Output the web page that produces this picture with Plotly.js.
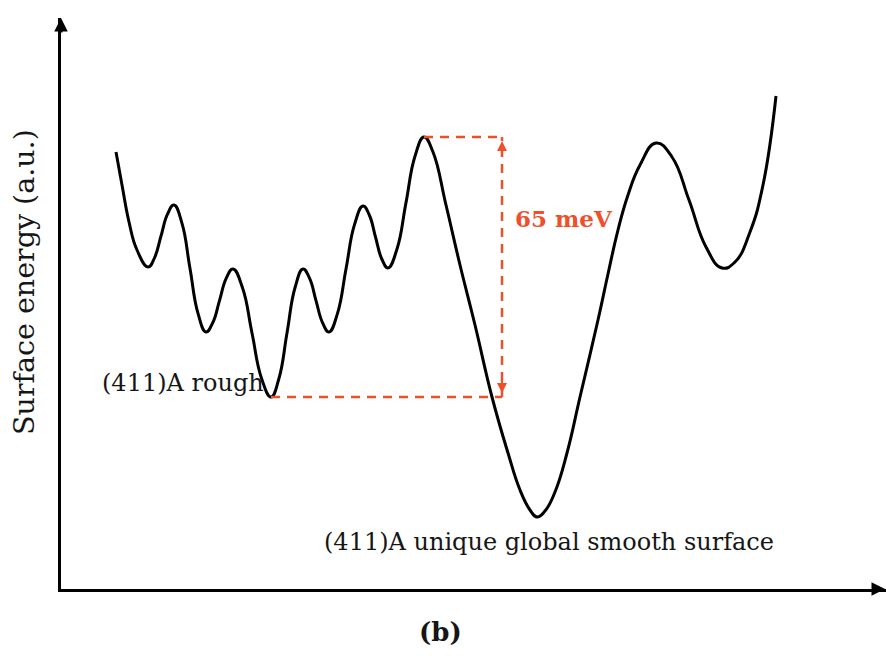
<!DOCTYPE html>
<html>
<head>
<meta charset="utf-8">
<script src="https://cdn.plot.ly/plotly-3.0.1.min.js"></script>
<style>
  html, body { margin: 0; padding: 0; background: #fff; }
  #chart { width: 886px; height: 656px; }
</style>
</head>
<body>
<div id="chart"></div>
<script>
// Surface energy landscape of the (411)A surface.
// Configuration coordinate (arbitrary) and surface energy in meV, relative to the global minimum.
const config_coord = [
  5.5, 6.1, 6.8, 7.6,
  8.7, 9.35, 10.0, 10.65,
  11.3, 12.1, 12.9, 13.7,
  14.5, 15.18, 15.85, 16.53,
  17.2, 18.15, 19.1, 20.05,
  21.0, 21.8, 22.6, 23.4,
  24.2, 24.85, 25.5, 26.15,
  26.8, 27.65, 28.5, 29.35,
  30.2, 30.83, 31.45, 32.08,
  32.7, 33.6, 34.5, 35.4,
  36.3, 37.2, 38.5, 39.9, 41.4, 43.1, 44.7, 45.9, 46.9,
  47.6, 48.4, 49.4, 50.6, 51.9, 53.7, 54.7, 55.7, 56.7, 57.9,
  59.5, 61.1, 62.8, 64.5,
  66.1, 67.4, 68.9, 70.2, 71.5
];
const surface_energy = [
  91.25, 83, 73.75, 66.75,
  62.5, 64.8, 70.25, 75.7,
  78, 73.4, 62.1, 50.9,
  46.25, 48.6, 54.1, 59.7,
  62, 57.3, 46, 34.7,
  30, 34.7, 46, 57.3,
  62, 59.7, 54.1, 48.6,
  46.25, 50.9, 62, 73.1,
  77.75, 75.5, 70, 64.5,
  62.25, 67, 78.6, 90.2,
  95, 91.25, 78, 63, 48, 30, 16, 6.75, 1.75,
  0, 1.5, 6.25, 16, 30, 49.25, 60.75, 71.75, 80.5, 88,
  93.5, 90, 79.25, 67.5,
  62.25, 63.75, 71.25, 83, 105.25
];

// Rough local minimum and the barrier that separates it from the smooth surface.
const rough_min_x = 21.0;
const rough_min_e = 30;
const barrier_x = 36.3;
const barrier_e = 95;
const barrier_label = '65 meV';
const marker_x = 44.1;     // where the barrier height is marked

const RED = '#ef4f2a';
const INK = '#161616';
const SERIF = '"DejaVu Serif", "Liberation Serif", serif';

const traces = [{
  x: config_coord,
  y: surface_energy,
  type: 'scatter',
  mode: 'lines',
  line: { color: '#000', width: 3, shape: 'spline', smoothing: 1.3 },
  hoverinfo: 'skip',
  showlegend: false
}];

const dash = '9px,7px';
const shapes = [
  { type: 'line', xref: 'x', yref: 'y', x0: rough_min_x, x1: marker_x, y0: rough_min_e, y1: rough_min_e,
    line: { color: RED, width: 2.5, dash: dash } },
  { type: 'line', xref: 'x', yref: 'y', x0: barrier_x, x1: marker_x, y0: barrier_e, y1: barrier_e,
    line: { color: RED, width: 2.5, dash: dash } },
  { type: 'line', xref: 'x', yref: 'y', x0: marker_x, x1: marker_x, y0: rough_min_e, y1: barrier_e,
    line: { color: RED, width: 2.5, dash: dash } }
];

const annotations = [
  // arrowheads on the barrier marker
  { xref: 'x', yref: 'y', x: marker_x, y: barrier_e - 1, ax: 0, ay: 14, text: '',
    showarrow: true, arrowhead: 2, arrowsize: 1, arrowwidth: 2, arrowcolor: RED },
  { xref: 'x', yref: 'y', x: marker_x, y: rough_min_e + 1, ax: 0, ay: -14, text: '',
    showarrow: true, arrowhead: 2, arrowsize: 1, arrowwidth: 2, arrowcolor: RED },
  // arrowheads on the axes
  { xref: 'paper', yref: 'paper', x: 0, y: 1, ax: 0, ay: 16, text: '',
    showarrow: true, arrowhead: 2, arrowsize: 0.9, arrowwidth: 3, arrowcolor: '#000' },
  { xref: 'paper', yref: 'paper', x: 1.004, y: 0, ax: -16, ay: 0, text: '',
    showarrow: true, arrowhead: 2, arrowsize: 0.9, arrowwidth: 3, arrowcolor: '#000' },
  // labels
  { xref: 'x', yref: 'y', x: barrier_x + 8.9, y: 74.75, xanchor: 'left', yanchor: 'middle',
    text: '<b>' + barrier_label + '</b>', showarrow: false,
    font: { family: SERIF, size: 23, color: RED } },
  { xref: 'x', yref: 'y', x: 20.5, y: 33.5, xanchor: 'right', yanchor: 'middle',
    text: '(411)A rough', showarrow: false,
    font: { family: SERIF, size: 24, color: INK } },
  { xref: 'x', yref: 'y', x: 26.1, y: -6.25, xanchor: 'left', yanchor: 'middle',
    text: '(411)A unique global smooth surface', showarrow: false,
    font: { family: SERIF, size: 24, color: INK } },
  { xref: 'paper', yref: 'paper', x: -0.0436, y: 0.5377, xanchor: 'center', yanchor: 'middle',
    textangle: -90, text: 'Surface energy (a.u.)', showarrow: false,
    font: { family: SERIF, size: 28.5, color: INK } },
  { xref: 'paper', yref: 'paper', x: 0.4594, y: -0.0753, xanchor: 'center', yanchor: 'middle',
    text: '<b>(b)</b>', showarrow: false,
    font: { family: SERIF, size: 26, color: INK } }
];

const layout = {
  width: 886,
  height: 656,
  margin: { l: 61, r: 0, t: 18, b: 67 },
  paper_bgcolor: '#fff',
  plot_bgcolor: '#fff',
  showlegend: false,
  xaxis: {
    range: [0, 82.5], showgrid: false, zeroline: false, showticklabels: false, ticks: '',
    showline: true, linecolor: '#000', linewidth: 3, fixedrange: true
  },
  yaxis: {
    range: [-18, 124.75], showgrid: false, zeroline: false, showticklabels: false, ticks: '',
    showline: true, linecolor: '#000', linewidth: 3, fixedrange: true
  },
  shapes: shapes,
  annotations: annotations
};

Plotly.newPlot('chart', traces, layout, { displayModeBar: false, staticPlot: true });
</script>
</body>
</html>
